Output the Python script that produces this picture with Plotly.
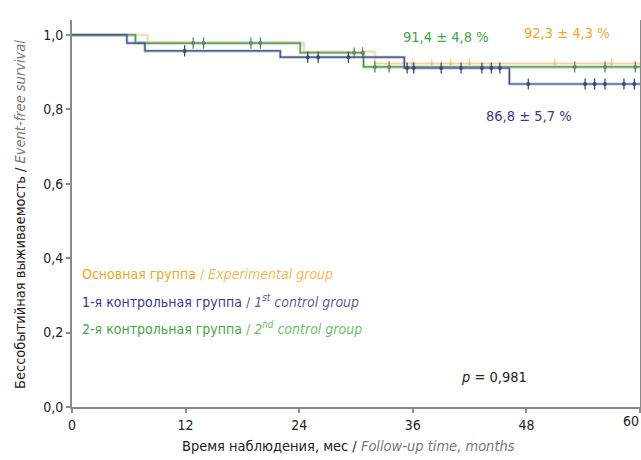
import plotly.graph_objects as go

# ---- data ----
blue_t = [0, 5.8, 7.7, 22.0, 35.1, 46.2, 60]
blue_s = [1.0, 0.978, 0.957, 0.940, 0.911, 0.868, 0.868]
green_t = [0, 6.7, 24.1, 30.8, 60]
green_s = [1.0, 0.978, 0.952, 0.914, 0.914]
orange_t = [0, 8.0, 24.5, 32.0, 60]
orange_s = [1.0, 0.978, 0.955, 0.923, 0.923]

blue_cens_t = [11.9, 24.9, 26.0, 29.2, 35.4, 36.1, 39.0, 41.1, 43.3, 44.3, 45.2, 48.2, 54.2, 55.2, 56.3, 58.3, 59.4]
green_cens_t = [12.8, 13.9, 18.9, 19.9, 29.8, 30.7, 32.0, 33.5, 53.1, 56.3, 59.5]
orange_cens_t = [36.0, 38.0, 40.0, 42.0, 51.0, 57.0]

x_ticks = [0, 12, 24, 36, 48, 60]
x_tick_labels = ["0", "12", "24", "36", "48", "60"]
y_ticks = [0, 0.2, 0.4, 0.6, 0.8, 1.0]
y_tick_labels = ["0,0", "0,2", "0,4", "0,6", "0,8", "1,0"]

FONT = "DejaVu Sans Condensed, Liberation Sans Narrow, sans-serif"

W, H = 641, 460
PL, PR, PT, PB = 72, 640, 20, 407  # plot area in pixels


def surv_at(ts, ss, t):
    v = ss[0]
    for ti, si in zip(ts, ss):
        if t >= ti:
            v = si
    return v


fig = go.Figure()


def add_curve(ts, ss, cens, halo, core, core_w=1.2):
    fig.add_trace(go.Scatter(x=ts, y=ss, mode="lines", line=dict(color=halo, width=3, shape="hv"),
                             hoverinfo="skip", showlegend=False))
    fig.add_trace(go.Scatter(x=ts, y=ss, mode="lines", line=dict(color=core, width=core_w, shape="hv"),
                             hoverinfo="skip", showlegend=False))
    ys = [surv_at(ts, ss, t) for t in cens]
    fig.add_trace(go.Scatter(x=cens, y=ys, mode="markers",
                             marker=dict(symbol="line-ns-open", size=8, color=core, line=dict(width=1.3, color=core)),
                             hoverinfo="skip", showlegend=False))
    fig.add_trace(go.Scatter(x=cens, y=ys, mode="markers",
                             marker=dict(symbol="circle", size=4, color=core),
                             hoverinfo="skip", showlegend=False))


add_curve(orange_t, orange_s, orange_cens_t, "rgba(250,205,140,0.40)", "rgba(235,190,120,0.55)", 1)
add_curve(green_t, green_s, green_cens_t, "rgba(140,210,130,0.75)", "#5d8a66")
add_curve(blue_t, blue_s, blue_cens_t, "rgba(140,160,220,0.6)", "#3c4a6e")

ann = []
ann.append(dict(x=446, y=37, text="91,4 ± 4,8 %", font=dict(color="#3fa844", size=14.5)))
ann.append(dict(x=567, y=33, text="92,3 ± 4,3 %", font=dict(color="#f5a623", size=14.5)))
ann.append(dict(x=529, y=116, text="86,8 ± 5,7 %", font=dict(color="#343a8e", size=14.5)))

legend_rows = [
    ("Основная группа", "#f5a623", "Experimental group", "#f7b955"),
    ("1-я контрольная группа", "#343a8e", "1<sup>st</sup> control group", "#5a5fa8"),
    ("2-я контрольная группа", "#3fa844", "2<sup>nd</sup> control group", "#6cbf6a"),
]
for i, (ru, c1, en, c2) in enumerate(legend_rows):
    ann.append(dict(x=80, y=274 + 27 * i, xanchor="left",
                    text=f"<span style='color:{c1}'>{ru}</span> <span style='color:{c2}'>/ <i>{en}</i></span>",
                    font=dict(size=14)))
ann.append(dict(x=459, y=377, xanchor="left", text="<i>p</i> = 0,981", font=dict(color="#222", size=14.5)))
ann.append(dict(x=348, y=446, text="Время наблюдения, мес / <span style='color:#777'><i>Follow-up time, months</i></span>",
                font=dict(color="#222", size=14.5)))
ann.append(dict(x=20, y=215, text="Бессобытийная выживаемость / <span style='color:#777'><i>Event-free survival</i></span>",
                textangle=-90, font=dict(color="#222", size=14.5)))
# last x tick label, kept inside the page edge
ann.append(dict(x=641, y=421, xanchor="right", text=x_tick_labels[-1], font=dict(color="#222", size=14)))

annotations = []
for a in ann:
    d = dict(xref="paper", yref="paper", showarrow=False, yanchor="middle")
    d.update(a)
    d.setdefault("xanchor", "center")
    d["x"] = (a["x"] - PL) / (PR - PL)
    d["y"] = (PB - a["y"]) / (PB - PT)
    d["font"] = dict(family=FONT, **a["font"])
    annotations.append(d)

fig.update_layout(
    width=W, height=H,
    margin=dict(l=PL, r=W - PR, t=PT, b=H - PB, autoexpand=False),
    paper_bgcolor="white", plot_bgcolor="white",
    annotations=annotations,
    font=dict(family=FONT, size=14, color="#222"),
    xaxis=dict(range=[0, 60], tickvals=x_ticks, ticktext=x_tick_labels[:-1] + [""],
               showgrid=False, zeroline=False, showline=True, linecolor="#8a8a8a", linewidth=2,
               ticks="outside", ticklen=4, tickcolor="#8a8a8a", tickwidth=2, automargin=False,
               tickfont=dict(size=14, family=FONT, color="#222")),
    yaxis=dict(range=[0, 1.04], tickvals=y_ticks, ticktext=y_tick_labels,
               showgrid=False, zeroline=False, showline=True, linecolor="#8a8a8a", linewidth=2,
               mirror=True, ticks="outside", ticklen=4, tickcolor="#8a8a8a", tickwidth=2, automargin=False,
               tickfont=dict(size=14, family=FONT, color="#222")),
)

fig.write_html("out.html", config={"displayModeBar": False},
               post_script="document.body.style.margin='0';document.body.style.overflow='hidden';")
